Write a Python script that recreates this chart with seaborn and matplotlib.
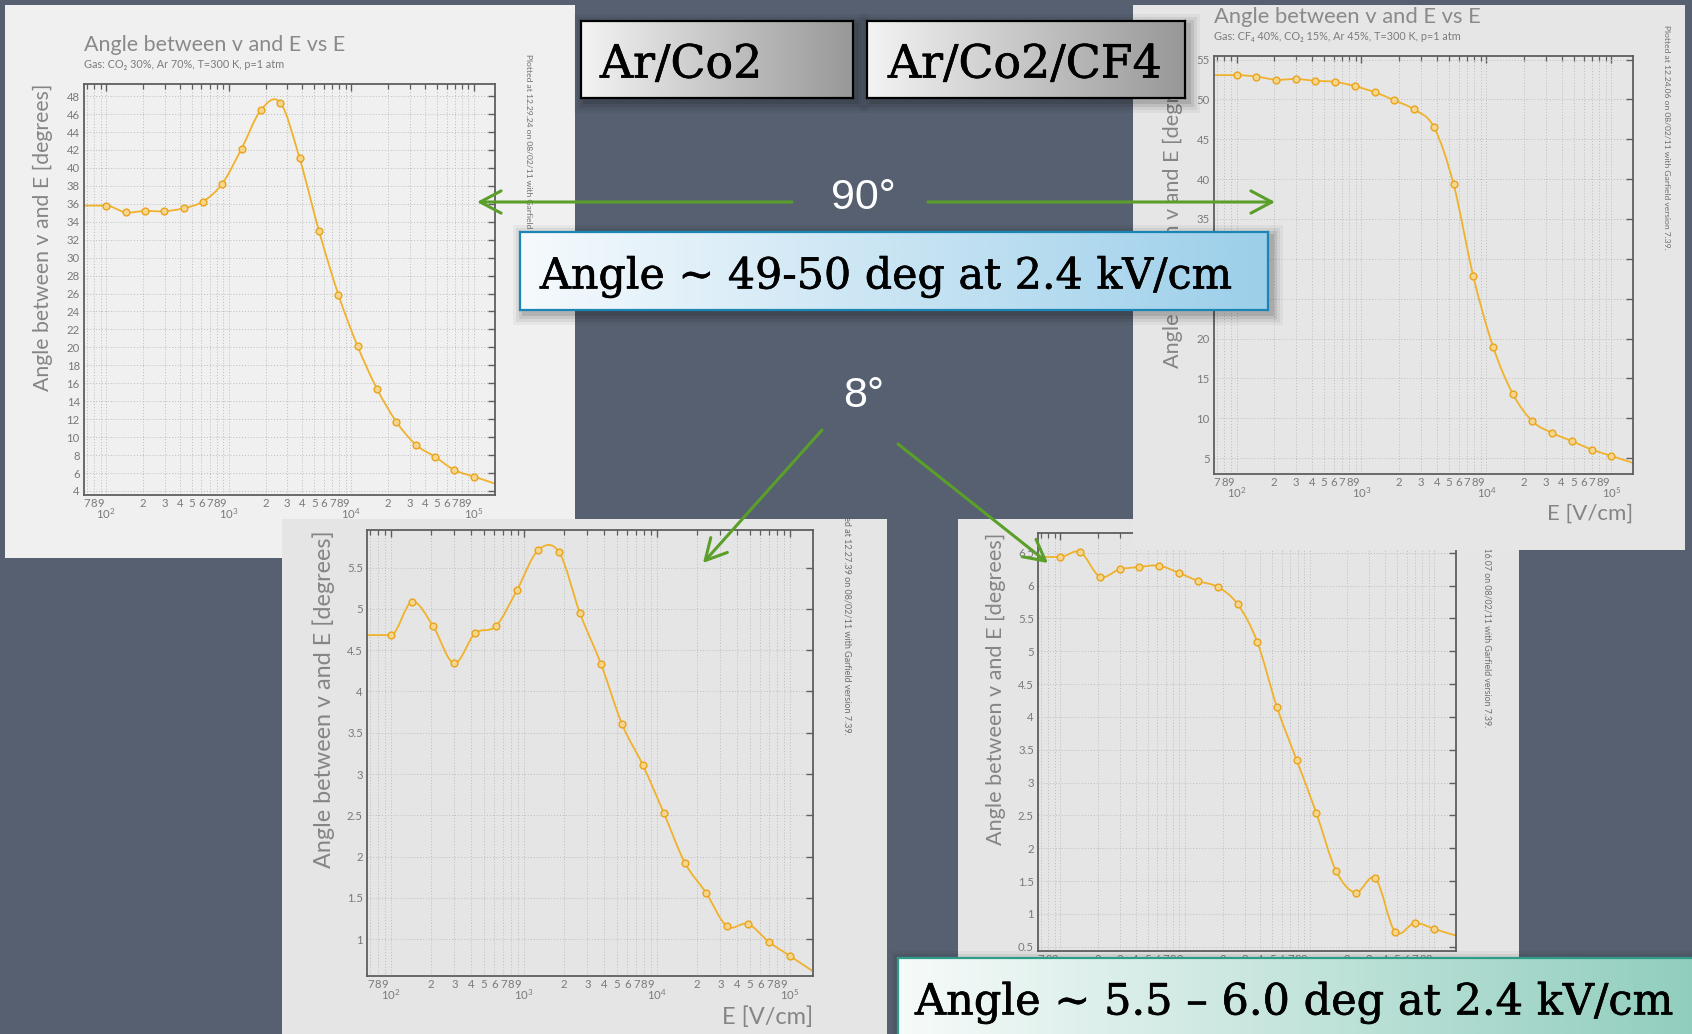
import numpy as np
import matplotlib
matplotlib.use("Agg")
import matplotlib.pyplot as plt
import seaborn as sns
from matplotlib.path import Path
from matplotlib.patches import PathPatch, Rectangle, FancyArrowPatch, ArrowStyle
from matplotlib.colors import LinearSegmentedColormap
from matplotlib.ticker import LogLocator, FuncFormatter, FixedLocator, NullLocator
import matplotlib.patheffects as pe

# ---------------- data ----------------
E_FIELD = [100, 144, 207, 298, 428, 616, 886, 1274, 1833, 2637,
           3793, 5456, 7848, 11288, 16238, 23357, 33598, 48329, 69519, 100000]

ANGLE_ARCO2_B90 = [35.80, 35.05, 35.20, 35.17, 35.50, 36.25, 38.24, 42.14, 46.45, 47.28,
                   41.07, 32.98, 25.89, 20.11, 15.37, 11.71, 9.16, 7.80, 6.33, 5.61]
ANGLE_ARCO2CF4_B90 = [53.05, 52.87, 52.47, 52.56, 52.34, 52.20, 51.67, 50.91, 49.89, 48.74,
                      46.56, 39.37, 27.82, 18.99, 13.08, 9.61, 8.15, 7.13, 6.07, 5.27]
ANGLE_ARCO2_B8 = [4.684, 5.088, 4.793, 4.341, 4.704, 4.793, 5.229, 5.710, 5.690, 4.947,
                  4.333, 3.606, 3.105, 2.523, 1.922, 1.562, 1.154, 1.183, 0.965, 0.795]
ANGLE_ARCO2CF4_B8 = [6.434, 6.510, 6.135, 6.246, 6.282, 6.302, 6.195, 6.069, 5.977, 5.718,
                     5.140, 4.145, 3.343, 2.536, 1.657, 1.322, 1.541, 0.728, 0.860, 0.769]

YTICKS_ARCO2_B90 = [4, 6, 8, 10, 12, 14, 16, 18, 20, 22, 24, 26, 28, 30, 32, 34, 36, 38,
                    40, 42, 44, 46, 48]
YTICKS_ARCO2CF4_B90 = [5, 10, 15, 20, 25, 30, 35, 40, 45, 50, 55]
YTICKS_ARCO2_B8 = [1, 1.5, 2, 2.5, 3, 3.5, 4, 4.5, 5, 5.5]
YTICKS_ARCO2CF4_B8 = [0.5, 1, 1.5, 2, 2.5, 3, 3.5, 4, 4.5, 5, 5.5, 6, 6.5]

TITLE = "Angle between v and E vs E"
YLABEL = "Angle between v and E [degrees]"
XLABEL = "E [V/cm]"
GAS_ARCO2 = "Gas: CO\u2082 30%, Ar 70%, T=300 K, p=1 atm"
GAS_ARCO2CF4 = "Gas: CF\u2084 40%, CO\u2082 15%, Ar 45%, T=300 K, p=1 atm"
STAMP_TL = "Plotted at 12.29.24 on 08/02/11 with Garfield version 7.39."
STAMP_TR = "Plotted at 12.24.06 on 08/02/11 with Garfield version 7.39."
STAMP_BL = "Plotted at 12.27.39 on 08/02/11 with Garfield version 7.39."
STAMP_BR = "Plotted at 12.16.07 on 08/02/11 with Garfield version 7.39."

LABEL_ARCO2 = "Ar/Co2"
LABEL_ARCO2CF4 = "Ar/Co2/CF4"
NOTE_90 = "Angle ~ 49-50 deg at 2.4 kV/cm"
NOTE_8 = "Angle ~ 5.5 \u2013 6.0 deg at 2.4 kV/cm"
BFIELD_90 = "90\u00b0"
BFIELD_8 = "8\u00b0"

XLIM = (66, 1.49e5)

# ---------------- style ----------------
sns.set_style("white")
plt.rcParams["font.family"] = ["Lato", "DejaVu Sans"]
plt.rcParams["mathtext.default"] = "regular"

W, H = 1692, 1034
BG = "#576070"
CURVE = "#f0b22c"
MARK_FACE = "#f6d68c"
MARK_EDGE = "#e8a41e"
GREEN = "#5a9f2a"
GRAY_TXT = "#858585"
TICK_TXT = "#7a7a7a"
FRAME = "#5e5e5e"

fig = plt.figure(figsize=(W / 100, H / 100), dpi=100, facecolor=BG)


def frac(x0, y0, x1, y1):
    return [x0 / W, 1 - y1 / H, (x1 - x0) / W, (y1 - y0) / H]


def fpt(x, y):
    return (x / W, 1 - y / H)


def smooth_path(xs, ys, xlim):
    u = np.log10(np.asarray(xs, float))
    v = np.asarray(ys, float)
    n = len(u)
    verts = [(xlim[0], v[0]), (xs[0], v[0])]
    codes = [Path.MOVETO, Path.LINETO]
    for i in range(n - 1):
        ip = max(i - 1, 0)
        inx = min(i + 2, n - 1)
        if i == 0:
            c1u, c1v = u[0] + (u[1] - u[0]) / 3, v[0]
        else:
            c1u = u[i] + (u[i + 1] - u[ip]) / 6
            c1v = v[i] + (v[i + 1] - v[ip]) / 6
        c2u = u[i + 1] - (u[inx] - u[i]) / 6
        c2v = v[i + 1] - (v[inx] - v[i]) / 6
        verts += [(10 ** c1u, c1v), (10 ** c2u, c2v), (xs[i + 1], v[i + 1])]
        codes += [Path.CURVE4] * 3
    slope = (v[-1] - v[-2]) / (u[-1] - u[-2])
    verts.append((xlim[1], v[-1] + slope * (np.log10(xlim[1]) - u[-1])))
    codes.append(Path.LINETO)
    return Path(verts, codes)


def minor_fmt(val, pos):
    exp = np.floor(np.log10(val) + 1e-9)
    d = int(round(val / 10 ** exp))
    return str(d) if 2 <= d <= 9 else ""


def major_fmt(val, pos):
    return "$10^{%d}$" % int(round(np.log10(val)))


CHARTS = [
    dict(panel=(5, 5, 575, 558), color="#f0f0f0", axes=(84, 84, 495, 495), z=1,
         data=ANGLE_ARCO2_B90, ylim=(3.55, 49.35), yticks=YTICKS_ARCO2_B90,
         title=(84, 45, 15.5), sub=(84, 65, 7.8, GAS_ARCO2),
         stamp=(529, 54, 6.1, STAMP_TL), ylab=(53, 15.3), xlab=(522, 16)),
    dict(panel=(1133, 5, 1685, 550), color="#e6e6e6", axes=(1214, 56, 1633, 474), z=2,
         data=ANGLE_ARCO2CF4_B90, ylim=(3.0, 55.45), yticks=YTICKS_ARCO2CF4_B90,
         title=(1214, 17, 15.8), sub=(1214, 37, 7.8, GAS_ARCO2CF4),
         stamp=(1666, 25, 6.1, STAMP_TR), ylab=(1183, 15.6), xlab=(504, 16)),
    dict(panel=(282, 519, 887, 1034), color="#e5e5e5", axes=(367, 530, 813, 976), z=2,
         data=ANGLE_ARCO2_B8, ylim=(0.552, 5.957), yticks=YTICKS_ARCO2_B8,
         title=None, sub=None,
         stamp=(847, 497, 6.5, STAMP_BL), ylab=(335, 16.8), xlab=(1006, 17)),
    dict(panel=(958, 519, 1519, 1000), color="#e5e5e5", axes=(1038, 533, 1456, 951), z=1,
         data=ANGLE_ARCO2CF4_B8, ylim=(0.435, 6.8), yticks=YTICKS_ARCO2CF4_B8,
         title=None, sub=None,
         stamp=(1487, 495, 6.3, STAMP_BR), ylab=(1006, 15.6), xlab=(980, 16)),
]

for c in CHARTS:
    bg = fig.add_axes(frac(*c["panel"]), zorder=c["z"])
    bg.set_facecolor(c["color"])
    bg.set_xticks([])
    bg.set_yticks([])
    for s in bg.spines.values():
        s.set_visible(False)
    if c["title"]:
        tx, ty, ts = c["title"]
        bg.text(*fpt(tx, ty), TITLE, transform=fig.transFigure, ha="left", va="center",
                fontsize=ts, color="#8a8a8a", clip_on=True)
    if c["sub"]:
        sx, sy, ss, stext = c["sub"]
        bg.text(*fpt(sx, sy), stext, transform=fig.transFigure, ha="left", va="center",
                fontsize=ss, color="#7c7c7c", clip_on=True)
    px, py, ps, ptext = c["stamp"]
    bg.text(*fpt(px, py), ptext, transform=fig.transFigure, ha="center", va="top",
            rotation=-90, fontsize=ps, color="#6e6e6e", clip_on=True)

    ax = fig.add_axes(frac(*c["axes"]), zorder=c["z"] + 0.1)
    ax.set_facecolor(c["color"])
    ax.set_xscale("log")
    patch = PathPatch(smooth_path(E_FIELD, c["data"], XLIM), fill=False,
                      edgecolor=CURVE, lw=1.3, zorder=2)
    ax.add_patch(patch)
    sns.scatterplot(x=E_FIELD, y=c["data"], ax=ax, s=24, color=MARK_FACE,
                    edgecolor=MARK_EDGE, linewidth=1.0, zorder=3, legend=False)
    ax.set_xlim(*XLIM)
    ax.set_ylim(*c["ylim"])

    ax.xaxis.set_major_locator(LogLocator(base=10, numticks=10))
    ax.xaxis.set_minor_locator(LogLocator(base=10, subs=tuple(range(2, 10)), numticks=40))
    ax.xaxis.set_major_formatter(FuncFormatter(major_fmt))
    ax.xaxis.set_minor_formatter(FuncFormatter(minor_fmt))
    ax.yaxis.set_major_locator(FixedLocator(c["yticks"]))
    ax.yaxis.set_minor_locator(NullLocator())
    ax.yaxis.set_major_formatter(FuncFormatter(lambda v, p: "%g" % v))

    ax.tick_params(which="both", direction="in", top=True, right=True,
                   colors=FRAME, labelcolor=TICK_TXT, labelsize=8.2)
    ax.tick_params(which="major", length=5, width=1.0)
    ax.tick_params(which="minor", length=3.5, width=0.9)
    ax.tick_params(axis="x", which="major", pad=8.5)
    ax.tick_params(axis="x", which="minor", pad=2.5)
    ax.tick_params(axis="y", which="major", pad=3)

    ax.grid(True, which="both", axis="x", ls=(0, (1, 2)), color="#bdbdbd", lw=0.7)
    ax.grid(True, which="major", axis="y", ls=(0, (1, 2)), color="#bdbdbd", lw=0.7)
    for s in ax.spines.values():
        s.set_color(FRAME)
        s.set_linewidth(1.3)

    lx, lsize = c["ylab"]
    ax.set_ylabel(YLABEL, loc="top", fontsize=lsize, color=GRAY_TXT)
    ax.yaxis.set_label_coords(lx / W, 1 - c["axes"][1] / H, transform=fig.transFigure)
    xy, xsize = c["xlab"]
    ax.set_xlabel(XLABEL, loc="right", fontsize=xsize, color=GRAY_TXT)
    ax.xaxis.set_label_coords(c["axes"][2] / W, 1 - xy / H, transform=fig.transFigure)


def shadow(x0, y0, x1, y1, z):
    for k, a in enumerate([0.10, 0.08, 0.06, 0.04]):
        d = 2 + 3 * k
        r = Rectangle(fpt(x0 - d + 4, y1 + d + 4), (x1 - x0 + 2 * d) / W,
                      (y1 - y0 + 2 * d) / H, transform=fig.transFigure,
                      facecolor="black", edgecolor="none", alpha=a, zorder=z)
        fig.add_artist(r)


BOLDEN = [pe.withStroke(linewidth=0.45, foreground="black")]


def gradient_box(rect, c_left, c_right, edge, lw, text, tx, ty, fs, z):
    shadow(*rect, z - 0.05)
    bx = fig.add_axes(frac(*rect), zorder=z)
    cmap = LinearSegmentedColormap.from_list("g", [c_left, c_right])
    bx.imshow([[0.0, 1.0]], cmap=cmap, interpolation="bilinear",
              extent=(-0.5, 1.5, 0, 1), aspect="auto")
    bx.set_xlim(0, 1)
    bx.set_ylim(0, 1)
    bx.set_xticks([])
    bx.set_yticks([])
    for s in bx.spines.values():
        s.set_color(edge)
        s.set_linewidth(lw)
    fig.text(*fpt(tx, ty), text, ha="left", va="center_baseline",
             fontsize=fs, family="DejaVu Serif", color="black", zorder=z + 0.01,
             path_effects=BOLDEN)


gradient_box((581, 21, 853, 98), "#f4f4f4", "#989898", "black", 1.6,
             LABEL_ARCO2, 600, 60, 33, 5)
gradient_box((867, 21, 1185, 98), "#f4f4f4", "#989898", "black", 1.6,
             LABEL_ARCO2CF4, 888, 60, 33, 5)
gradient_box((520, 232, 1268, 310), "#f6fafd", "#9ccfea", "#1b86b4", 1.6,
             NOTE_90, 540, 272, 30.8, 5)
gradient_box((898, 958, 1710, 1050), "#f7fbfa", "#8fcdbd", "#2f9c8a", 1.6,
             NOTE_8, 915, 998, 31, 5)

fig.text(*fpt(863, 198), BFIELD_90, ha="center", va="center", fontsize=31,
         family="Liberation Sans", color="white", zorder=6)
fig.text(*fpt(864, 396), BFIELD_8, ha="center", va="center", fontsize=31,
         family="Liberation Sans", color="white", zorder=6)

ARROWS = [((792, 202), (477, 202)), ((928, 202), (1275, 202)),
          ((822, 430), (703, 563)), ((898, 444), (1048, 563))]
for a, b in ARROWS:
    arr = FancyArrowPatch(fpt(*a), fpt(*b), transform=fig.transFigure,
                          arrowstyle=ArrowStyle("->", head_length=0.75, head_width=0.4),
                          mutation_scale=20, color=GREEN, lw=2.2, zorder=6,
                          shrinkA=0, shrinkB=0)
    fig.add_artist(arr)

fig.savefig("out.png", dpi=100, facecolor=BG)
